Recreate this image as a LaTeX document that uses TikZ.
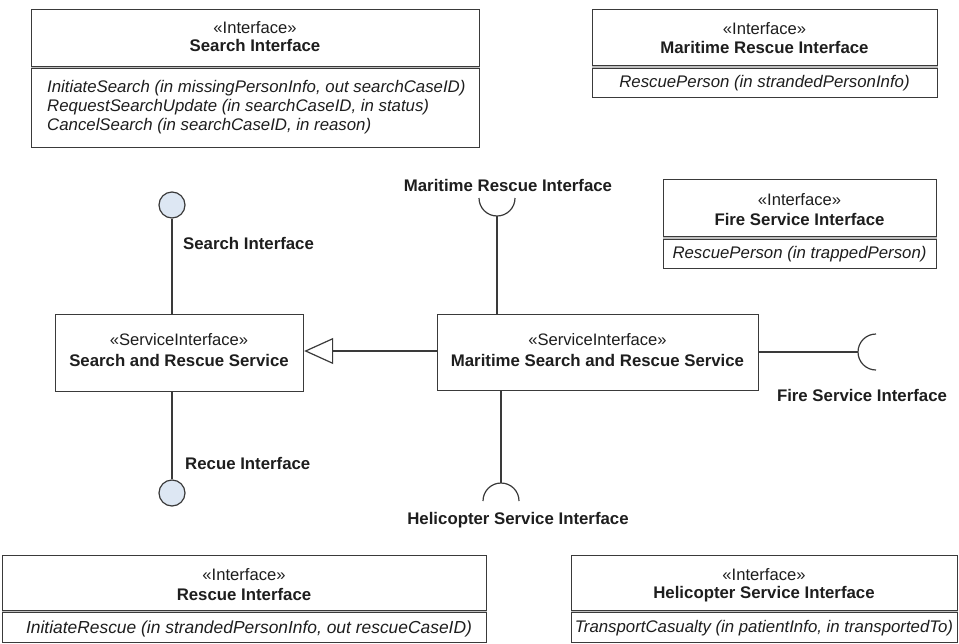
\documentclass[tikz,border=0pt]{standalone}
\usepackage{fontspec}
\setmainfont{Liberation Sans}
\usetikzlibrary{arrows.meta,calc}
\definecolor{ln}{HTML}{3A3A3A}
\definecolor{tx}{HTML}{1E1E1E}
\definecolor{lolli}{HTML}{DDE7F3}
\begin{document}
\begin{tikzpicture}[x=1pt,y=-1pt,
  box/.style={draw=ln, line width=1.2pt, inner sep=0pt, anchor=north west, fill=white},
  txt/.style={inner sep=0pt, text=tx, font=\fontsize{16.6}{19}\selectfont},
  bold/.style={inner sep=0pt, text=tx, font=\fontsize{16.8}{19}\selectfont\bfseries},
  op/.style={inner sep=0pt, text=tx, font=\fontsize{16.8}{19}\selectfont\itshape},
  conn/.style={draw=ln, line width=1.2pt},
  divider/.style={draw=ln, line width=1.1pt, double=lightgray, double distance=1.2pt}]
\useasboundingbox (0,0) rectangle (959,643);
\fill[white] (0,0) rectangle (959,643);

% ---------- Search Interface class ----------
\node[box, minimum width=448pt, minimum height=138pt] (si) at (31,9) {};
\draw[divider] (si.west |- 0,67.5) -- (si.east |- 0,67.5);
\node[txt]  (si-st) at (255,28) {«Interface»};
\node[bold] (si-nm) at (255,45) {Search Interface};
\node[op, anchor=west] (si-o1) at (47,88)  {InitiateSearch (in missingPersonInfo, out searchCaseID)};
\node[op, anchor=west] (si-o2) at (47,107) {RequestSearchUpdate (in searchCaseID, in status)};
\node[op, anchor=west] (si-o3) at (47,126) {CancelSearch (in searchCaseID, in reason)};

% ---------- Maritime Rescue Interface class ----------
\node[box, minimum width=345pt, minimum height=88pt] (mri) at (592,9) {};
\draw[divider] (mri.west |- 0,67) -- (mri.east |- 0,67);
\node[txt]  (mri-st) at (764.5,29) {«Interface»};
\node[bold] (mri-nm) at (764.5,47) {Maritime Rescue Interface};
\node[op]   (mri-o1) at (764.5,83) {RescuePerson (in strandedPersonInfo)};

% ---------- Fire Service Interface class ----------
\node[box, minimum width=273pt, minimum height=89pt] (fsi) at (663,179) {};
\draw[divider] (fsi.west |- 0,238) -- (fsi.east |- 0,238);
\node[txt]  (fsi-st) at (799.5,200) {«Interface»};
\node[bold] (fsi-nm) at (799.5,219) {Fire Service Interface};
\node[op]   (fsi-o1) at (799.5,254) {RescuePerson (in trappedPerson)};

% ---------- Search and Rescue Service ----------
\node[box, minimum width=248pt, minimum height=77pt] (sars) at (55,314) {};
\node[txt]  (sars-st) at (179,340) {«ServiceInterface»};
\node[bold] (sars-nm) at (179,360) {Search and Rescue Service};

% ---------- Maritime Search and Rescue Service ----------
\node[box, minimum width=321pt, minimum height=76pt] (msars) at (437,314) {};
\node[txt]  (msars-st) at (597.5,340) {«ServiceInterface»};
\node[bold] (msars-nm) at (597.5,360) {Maritime Search and Rescue Service};

% ---------- Rescue Interface class ----------
\node[box, minimum width=484pt, minimum height=87pt] (ri) at (2,555) {};
\draw[divider] (ri.west |- 0,611.5) -- (ri.east |- 0,611.5);
\node[txt]  (ri-st) at (244,575) {«Interface»};
\node[bold] (ri-nm) at (244,594) {Rescue Interface};
\node[op, font=\fontsize{17.4}{19}\selectfont\itshape] (ri-o1) at (249,628.5) {InitiateRescue (in strandedPersonInfo, out rescueCaseID)};

% ---------- Helicopter Service Interface class ----------
\node[box, minimum width=386pt, minimum height=87pt] (hsi) at (571,555) {};
\draw[divider] (hsi.west |- 0,611.5) -- (hsi.east |- 0,611.5);
\node[txt]  (hsi-st) at (764,575) {«Interface»};
\node[bold] (hsi-nm) at (764,594) {Helicopter Service Interface};
\node[op]   (hsi-o1) at (764,628.5) {TransportCasualty (in patientInfo, in transportedTo)};

% ---------- Provided interfaces (lollipops) ----------
\node[circle, draw=ln, line width=1.2pt, fill=lolli, minimum size=26pt, inner sep=0pt] (lsi) at (172,205) {};
\draw[conn] (lsi.south) -- (sars.north -| lsi.south);
\node[bold, anchor=west] (lsi-l) at (183,243) {Search Interface};

\node[circle, draw=ln, line width=1.2pt, fill=lolli, minimum size=26pt, inner sep=0pt] (lri) at (172,493) {};
\draw[conn] (sars.south -| lri.north) -- (lri.north);
\node[bold, anchor=west] (lri-l) at (185,463) {Recue Interface};

% ---------- Required interfaces (sockets) ----------
\coordinate (smr) at (497,216);
\draw[conn] (msars.north -| smr) -- (smr);
\draw[conn] (smr) ++(-18,-18) arc[start angle=180, end angle=360, radius=18pt];
\node[bold] (smr-l) at (508,185) {Maritime Rescue Interface};

\coordinate (sfs) at (858,352);
\draw[conn] (msars.east |- sfs) -- (sfs);
\draw[conn] (sfs) ++(18,-18) arc[start angle=90, end angle=270, radius=18pt];
\node[bold] (sfs-l) at (862,395) {Fire Service Interface};

\coordinate (shs) at (501,483);
\draw[conn] (msars.south -| shs) -- (shs);
\draw[conn] (shs) ++(-18,18) arc[start angle=180, end angle=0, radius=18pt];
\node[bold] (shs-l) at (518,520) {Helicopter Service Interface};

% ---------- Generalization ----------
\draw[conn, -{Triangle[open, length=29pt, width=26pt, line width=1.2pt]}] (msars.west |- 0,351) -- (sars.east |- 0,351);
\end{tikzpicture}
\end{document}
